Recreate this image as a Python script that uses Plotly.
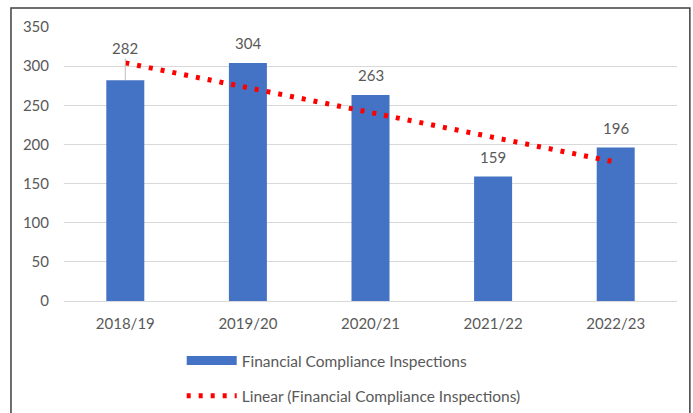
import plotly.graph_objects as go

# data
years = ["2018/19", "2019/20", "2020/21", "2021/22", "2022/23"]
inspections = [282, 304, 263, 159, 196]
trend_x = ["2018/19", "2022/23"]
trend_y = [304.2, 177.4]
y_ticks = [0, 50, 100, 150, 200, 250, 300, 350]

BLUE = "#4472C4"
GREY = "#595959"
FONT = "Lato"
FS = 15

fig = go.Figure()

fig.add_trace(go.Bar(
    x=years, y=inspections, marker=dict(color=BLUE, line=dict(width=0)),
    width=0.31, showlegend=False, name="Financial Compliance Inspections",
))

# legend proxy so the swatch is a wide bar
fig.add_trace(go.Scatter(
    x=[None], y=[None], mode="lines", line=dict(color=BLUE, width=9),
    name="Financial Compliance Inspections", legendgroup="a",
))

fig.add_trace(go.Scatter(
    x=trend_x, y=trend_y, mode="lines",
    line=dict(color="#FF0000", width=5, dash="4px,8px"),
    name="Linear (Financial Compliance Inspections)", legendgroup="b",
))

# value labels
for i, (yr, v) in enumerate(zip(years, inspections)):
    if i == 0:
        # first label sits above the trend line with a leader line
        fig.add_annotation(
            x=yr, y=v, text=str(v), showarrow=True, arrowhead=0,
            arrowwidth=1, arrowcolor="#BFBFBF", ax=0, ayref="y", ay=323,
            font=dict(family=FONT, size=FS, color=GREY), yanchor="middle",
        )
    else:
        fig.add_annotation(
            x=yr, y=v, text=str(v), showarrow=False, yanchor="bottom",
            yshift=9, font=dict(family=FONT, size=FS, color=GREY),
        )

# outer chart border
fig.add_shape(type="rect", xref="paper", yref="paper",
              x0=-0.0865, x1=1.021, y0=-0.45, y1=1.069,
              line=dict(color="#404040", width=1.5))

fig.update_layout(
    width=693, height=413,
    margin=dict(l=64, r=16, t=27, b=112, autoexpand=False),
    plot_bgcolor="white", paper_bgcolor="white",
    font=dict(family=FONT, size=FS, color=GREY),
    bargap=0.69,
    xaxis=dict(showgrid=False, showline=False, ticks="",
               ticklabelstandoff=12, tickfont=dict(size=FS, color=GREY)),
    yaxis=dict(range=[0, 350], tickvals=y_ticks, showgrid=True,
               gridcolor="#D9D9D9", gridwidth=1, zeroline=True,
               zerolinecolor="#D9D9D9", zerolinewidth=1, showline=False,
               ticks="", ticklabelstandoff=14,
               tickfont=dict(size=FS, color=GREY)),
    legend=dict(x=0.192, y=-0.157, xanchor="left", yanchor="top",
                orientation="v", tracegroupgap=12,
                font=dict(family=FONT, size=15.5, color=GREY),
                itemwidth=50, bgcolor="rgba(0,0,0,0)"),
)

# drop the default page margin so the figure fills the window exactly
fig.write_html(
    "out.html",
    config={"displayModeBar": False},
    post_script="document.body.style.margin='0';document.body.style.overflow='hidden';",
)
